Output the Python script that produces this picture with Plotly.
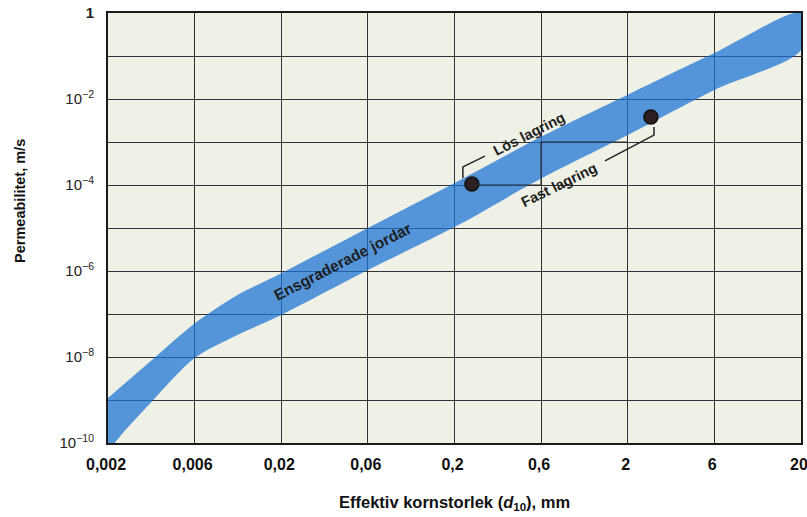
import numpy as np
import plotly.graph_objects as go

# ---- data ----
# x gridline/tick positions (mm) and their printed labels
x_ticks = [0.002, 0.00632, 0.02, 0.0632, 0.2, 0.632, 2.0, 6.32, 20.0]
x_tick_labels = ["0,002", "0,006", "0,02", "0,06", "0,2", "0,6", "2", "6", "20"]

y_ticks = [1e-10, 1e-9, 1e-8, 1e-7, 1e-6, 1e-5, 1e-4, 1e-3, 1e-2, 1e-1, 1.0]
y_tick_labels = ["10<sup>\u221210</sup>", "", "10<sup>\u22128</sup>", "", "10<sup>\u22126</sup>", "",
                 "10<sup>\u22124</sup>", "", "10<sup>\u22122</sup>", "", "<b>1</b>"]

# band "Ensgraderade jordar": upper edge
upper_x = [0.002, 0.00356, 0.00632, 0.01125, 0.02, 0.0632, 0.2, 0.632, 2.0, 6.32, 20.0]
upper_k = [1.12e-9, 8.3e-9, 6.0e-8, 2.8e-7, 8.9e-7, 1.0e-5, 1.12e-4, 1.32e-3, 1.26e-2, 0.117, 1.0]
# band lower edge
lower_x = [0.002, 0.00219, 0.00356, 0.00632, 0.01125, 0.02, 0.0632, 0.2, 0.632, 2.0, 6.32, 20.0]
lower_k = [5e-11, 1.0e-10, 9.0e-10, 9.5e-9, 3.3e-8, 9.5e-8, 1.05e-6, 1.05e-5, 1.41e-4, 1.45e-3, 1.62e-2, 0.138]

# two marked points
point_names = ["Lös lagring", "Fast lagring"]
point_x = [0.252, 2.72]
point_k = [1.05e-4, 3.8e-3]

# ---- figure ----
lg = np.log10
fig = go.Figure()

band_x = upper_x + lower_x[::-1]
band_y = upper_k + lower_k[::-1]
fig.add_trace(go.Scatter(
    x=band_x, y=band_y, mode="lines", fill="toself",
    fillcolor="rgba(24,114,214,0.72)",
    line=dict(color="rgba(24,114,214,0.0)", width=0.5, shape="spline", smoothing=0.8),
    hoverinfo="skip", showlegend=False))

fig.add_trace(go.Scatter(
    x=point_x, y=point_k, mode="markers", text=point_names,
    marker=dict(size=14, color="#2b1f22", line=dict(color="#111111", width=1.5)),
    showlegend=False))

grid_col = "#333333"
shapes = []
# gridline segments printed over the band (staircase); shapes on log axes use data units
stair_x = [point_x[0], x_ticks[5], x_ticks[5], x_ticks[6]]
stair_y = [1e-4, 1e-4, 1e-3, 1e-3]
path = "M " + " L ".join(f"{a},{b}" for a, b in zip(stair_x, stair_y))
shapes.append(dict(type="path", path=path, xref="x", yref="y",
                   line=dict(color="#2a2a2a", width=1.2), layer="above"))

# leader lines (offsets from the points, in decades)
lx, ly = lg(point_x[0]), lg(point_k[0])
p1 = [(lx - 0.052, ly + 0.14), (lx - 0.052, ly + 0.40), (lx + 0.075, ly + 0.65)]
fx, fy = lg(point_x[1]), lg(point_k[1])
p2 = [(fx + 0.018, fy - 0.23), (fx + 0.018, fy - 0.42), (fx - 0.265, fy - 1.02)]
for pts in (p1, p2):
    shapes.append(dict(type="path", xref="x", yref="y",
                       path="M " + " L ".join(f"{10**a},{10**b}" for a, b in pts),
                       line=dict(color="#222222", width=1.5), layer="above"))

FONT = "Liberation Sans, Arial"
txt_font = dict(family=FONT, size=14.5, color="#1e1e1e")
annotations = [
    dict(x=lg(0.0454), y=lg(1.62e-6), xref="x", yref="y", text="<b>Ensgraderade jordar</b>",
         showarrow=False, textangle=-27, font=dict(family=FONT, size=15.5, color="#1e1e1e")),
    dict(x=lg(0.538), y=lg(1.55e-3), xref="x", yref="y", text="<b>Lös lagring</b>",
         showarrow=False, textangle=-27, font=txt_font),
    dict(x=lg(0.80), y=lg(1.0e-4), xref="x", yref="y", text="<b>Fast lagring</b>",
         showarrow=False, textangle=-26, font=txt_font),
    dict(x=-0.127, y=0.563, xref="paper", yref="paper", text="<b>Permeabilitet, m/s</b>",
         xanchor="center", yanchor="middle",
         showarrow=False, textangle=-90, font=dict(family=FONT, size=14.5, color="#111")),
    dict(x=0.5, y=-0.14, xref="paper", yref="paper",
         text="<b>Effektiv kornstorlek (<i>d</i><sub>10</sub>), mm</b>",
         xanchor="center", yanchor="middle",
         showarrow=False, font=dict(family=FONT, size=16.5, color="#111")),
]

fig.update_layout(
    width=807, height=517,
    margin=dict(l=108, r=6, t=13, b=74, autoexpand=False),
    paper_bgcolor="#ffffff", plot_bgcolor="#eff1e6",
    shapes=shapes, annotations=annotations, showlegend=False,
    xaxis=dict(type="log", range=[lg(0.002), lg(20)], tickvals=x_ticks, ticktext=x_tick_labels,
               showgrid=True, gridcolor=grid_col, gridwidth=1.2, zeroline=False, automargin=False,
               showline=True, linecolor="#1a1a1a", linewidth=2, mirror=True, ticks="",
               ticklabelstandoff=6, ticklabeloverflow="allow", ticklabelshift=-2,
               tickfont=dict(family=FONT, size=16, color="#111", weight="bold")),
    yaxis=dict(type="log", range=[-10, 0], tickvals=y_ticks, ticktext=y_tick_labels,
               showgrid=True, gridcolor=grid_col, gridwidth=1.2, zeroline=False, automargin=False,
               showline=True, linecolor="#1a1a1a", linewidth=2, mirror=True, ticks="",
               ticklabelstandoff=9, ticklabeloverflow="allow",
               tickfont=dict(family=FONT, size=15, color="#222")),
)

fig.write_html("out.html", config={"displayModeBar": False},
               post_script="document.body.style.margin='0';")
